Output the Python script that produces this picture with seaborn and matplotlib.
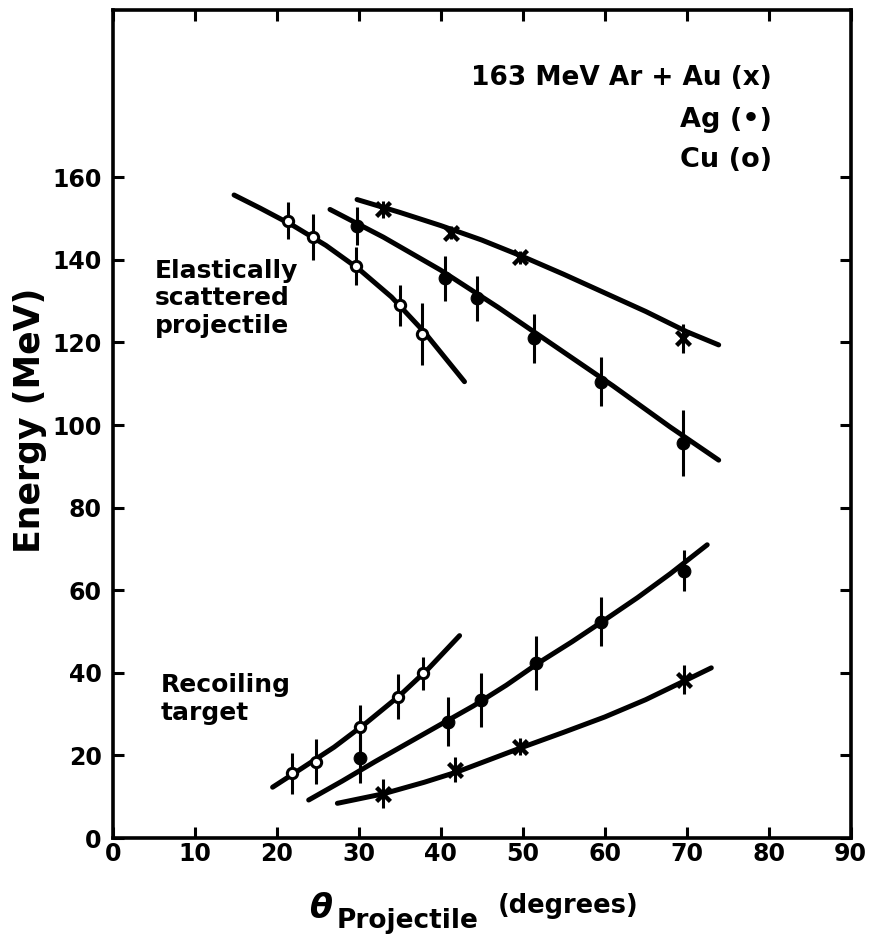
import numpy as np
import pandas as pd
import matplotlib
matplotlib.use("Agg")
import matplotlib.pyplot as plt
import seaborn as sns

# ---------------- data ----------------
# Elastically scattered projectile
el_cu_theta = [21.4, 24.4, 29.7, 35.0, 37.7]
el_cu_energy = [149.5, 145.5, 138.5, 129.0, 122.0]
el_cu_err = [4.5, 5.5, 4.5, 5.0, 7.5]

el_ag_theta = [29.8, 40.5, 44.4, 51.4, 59.6, 69.6]
el_ag_energy = [148.2, 135.5, 130.7, 121.0, 110.5, 95.7]
el_ag_err = [4.5, 5.5, 5.5, 6.0, 6.0, 8.0]

el_au_theta = [33.0, 41.3, 49.7, 69.5]
el_au_energy = [152.2, 146.6, 140.6, 121.0]
el_au_err = [2.0, 1.5, 1.5, 3.5]

# Recoiling target
re_cu_theta = [21.9, 24.8, 30.1, 34.8, 37.9]
re_cu_energy = [15.7, 18.5, 26.8, 34.2, 39.9]
re_cu_err = [5.0, 5.5, 5.5, 5.5, 4.0]

re_ag_theta = [30.1, 40.9, 44.9, 51.6, 59.6, 69.7]
re_ag_energy = [19.3, 28.2, 33.4, 42.3, 52.4, 64.7]
re_ag_err = [6.0, 6.0, 6.5, 6.5, 6.0, 5.0]

re_au_theta = [33.0, 41.8, 49.7, 69.7]
re_au_energy = [10.7, 16.5, 22.1, 38.3]
re_au_err = [3.5, 3.0, 2.0, 3.5]

# hand-drawn guide curves
cv_el_cu_theta = [14.8, 18.0, 22.0, 26.0, 30.0, 34.0, 38.0, 42.9]
cv_el_cu_energy = [155.7, 152.5, 148.3, 143.5, 137.8, 131.0, 122.5, 110.5]
cv_el_ag_theta = [26.5, 33.0, 40.0, 47.0, 54.0, 61.0, 68.0, 73.9]
cv_el_ag_energy = [152.2, 145.5, 137.5, 128.5, 119.0, 109.5, 99.5, 91.5]
cv_el_au_theta = [29.8, 35.0, 40.0, 45.0, 50.0, 55.0, 60.0, 65.0, 70.0, 73.9]
cv_el_au_energy = [154.6, 151.5, 148.3, 144.8, 140.8, 136.5, 132.0, 127.5, 122.6, 119.4]
cv_re_cu_theta = [19.5, 23.0, 27.0, 31.0, 35.0, 38.5, 42.3]
cv_re_cu_energy = [12.3, 16.8, 22.0, 28.0, 34.5, 41.0, 49.0]
cv_re_ag_theta = [23.9, 28.0, 32.0, 36.0, 40.0, 44.0, 48.0, 52.0, 56.0, 60.0, 64.0, 68.0, 72.5]
cv_re_ag_energy = [9.2, 13.8, 18.5, 23.0, 27.5, 32.0, 37.0, 42.5, 47.5, 52.8, 58.2, 64.0, 71.0]
cv_re_au_theta = [27.4, 33.0, 38.0, 42.0, 46.0, 50.0, 55.0, 60.0, 65.0, 70.0, 73.0]
cv_re_au_energy = [8.4, 10.7, 13.5, 16.0, 19.0, 22.0, 25.6, 29.3, 33.5, 38.3, 41.2]

x_ticks = [0, 10, 20, 30, 40, 50, 60, 70, 80, 90]
y_ticks = [0, 20, 40, 60, 80, 100, 120, 140, 160]

# ---------------- style ----------------
sns.set_theme(style="ticks")
plt.rcParams["font.family"] = ["DejaVu Sans"]
plt.rcParams["font.weight"] = "bold"
plt.rcParams["text.color"] = "black"
plt.rcParams["axes.labelcolor"] = "black"
plt.rcParams["xtick.color"] = "black"
plt.rcParams["ytick.color"] = "black"

fig = plt.figure(figsize=(8.71, 9.42), dpi=100)
ax = fig.add_axes([0.1294, 0.1104, 0.8473, 0.8790])

LW_CURVE = 3.6
for tx, ty in [(cv_el_cu_theta, cv_el_cu_energy), (cv_el_ag_theta, cv_el_ag_energy),
               (cv_el_au_theta, cv_el_au_energy), (cv_re_cu_theta, cv_re_cu_energy),
               (cv_re_ag_theta, cv_re_ag_energy), (cv_re_au_theta, cv_re_au_energy)]:
    df = pd.DataFrame({"theta": tx, "energy": ty})
    sns.lineplot(data=df, x="theta", y="energy", ax=ax, color="black",
                 linewidth=LW_CURVE, sort=False, estimator=None,
                 solid_capstyle="round", solid_joinstyle="round")

def draw_points(th, en, er, kind):
    ax.errorbar(th, en, yerr=er, fmt="none", ecolor="black", elinewidth=2.2,
                capsize=0, zorder=3)
    df = pd.DataFrame({"theta": th, "energy": en})
    if kind == "cu":
        sns.scatterplot(data=df, x="theta", y="energy", ax=ax, marker="o", s=55,
                        facecolor="white", edgecolor="black", linewidth=2.2, zorder=4)
    elif kind == "ag":
        sns.scatterplot(data=df, x="theta", y="energy", ax=ax, marker="o", s=85,
                        color="black", edgecolor="black", zorder=4)
    else:
        sns.scatterplot(data=df, x="theta", y="energy", ax=ax, marker="x", s=100,
                        color="black", linewidth=3.2, zorder=4)

draw_points(el_cu_theta, el_cu_energy, el_cu_err, "cu")
draw_points(el_ag_theta, el_ag_energy, el_ag_err, "ag")
draw_points(el_au_theta, el_au_energy, el_au_err, "au")
draw_points(re_cu_theta, re_cu_energy, re_cu_err, "cu")
draw_points(re_ag_theta, re_ag_energy, re_ag_err, "ag")
draw_points(re_au_theta, re_au_energy, re_au_err, "au")

ax.set_xlim(0, 90)
ax.set_ylim(0, 200.5)
ax.set_xticks(x_ticks)
ax.set_xticklabels([str(v) for v in x_ticks])
ax.set_yticks(y_ticks)
ax.set_yticklabels([str(v) for v in y_ticks])
ax.tick_params(axis="both", direction="in", length=8, width=2.2,
               top=True, right=True, labelsize=17, colors="black")
ax.tick_params(axis="x", pad=3)
ax.tick_params(axis="y", pad=8)
for lab in ax.get_xticklabels() + ax.get_yticklabels():
    lab.set_fontweight("bold")
for sp in ax.spines.values():
    sp.set_linewidth(2.6)
    sp.set_color("black")
ax.set_xlabel("")
ax.set_ylabel("")

# y-axis label
fig.text(30 / 871, 1 - 420 / 942, "Energy (MeV)", rotation=90, ha="center",
         va="center", fontsize=25, fontweight="bold")

# annotations
ax.text(80.4, 184.0, "163 MeV Ar + Au (x)", ha="right", va="center", fontsize=19,
        fontweight="bold")
ax.text(80.4, 173.8, "Ag (\u2022)", ha="right", va="center", fontsize=19.5,
        fontweight="bold")
ax.text(80.4, 164.2, "Cu (o)", ha="right", va="center", fontsize=19.5,
        fontweight="bold")
ax.text(5.1, 130.7, "Elastically\nscattered\nprojectile", ha="left", va="center",
        fontsize=18, fontweight="bold", linespacing=1.18)
ax.text(5.9, 33.7, "Recoiling\ntarget", ha="left", va="center",
        fontsize=18, fontweight="bold", linespacing=1.18)

# x-axis label in three pieces
fig.text(320 / 871, 1 - 908 / 942, "\u03b8", ha="center", va="center",
         fontsize=24, fontstyle="italic", fontweight="bold")
fig.text(337 / 871, 1 - 921 / 942, "Projectile", ha="left", va="center",
         fontsize=19, fontweight="bold")
fig.text(498 / 871, 1 - 906 / 942, "(degrees)", ha="left", va="center",
         fontsize=18.5, fontweight="bold")

fig.savefig("out.png", dpi=100, facecolor="white")
